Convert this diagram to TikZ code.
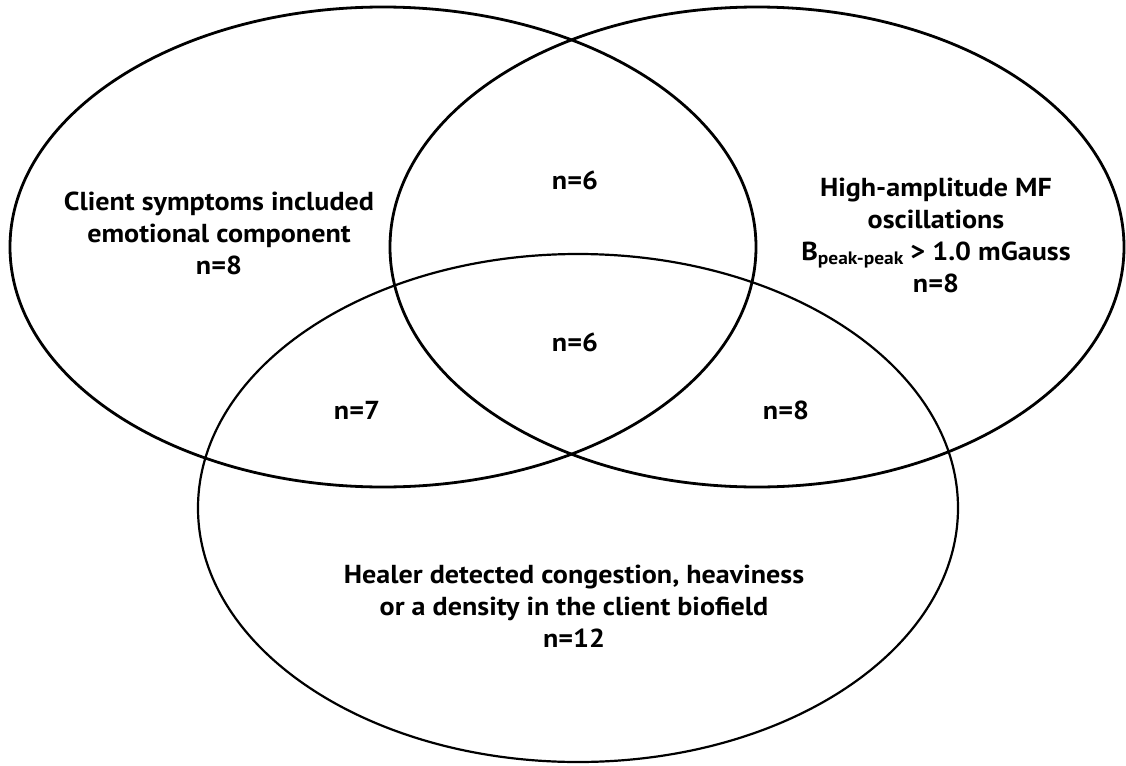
\documentclass[tikz,border=0pt]{standalone}
\usepackage{fontspec}
\setmainfont{PT Sans}[FakeStretch=1.08]
\usetikzlibrary{shapes.geometric}
\definecolor{bg}{HTML}{FFFFFF}
\definecolor{ink}{HTML}{000000}
\tikzset{
  venn/.style={draw=ink, ellipse, line width=1.4pt, inner sep=0pt, outer sep=0pt},
  lbl/.style={text=ink, font=\bfseries\fontsize{13}{16}\selectfont, align=center, inner sep=0pt}
}

\begin{document}
\begin{tikzpicture}[x=0.5pt, y=-0.5pt]
\fill[bg] (0,0) rectangle (1126,766);
\useasboundingbox (0,0) rectangle (1126,766);
% the three sets
\node[venn, minimum width=373pt, minimum height=240pt] (client) at (383,247) {};
\node[venn, minimum width=367pt, minimum height=240pt] (osc) at (757,247) {};
\node[venn, line width=1.1pt, minimum width=380pt, minimum height=254pt] (healer) at (578,508) {};
% set labels
\node[lbl] (clientlbl) at (219,233) {Client symptoms included\\emotional component\\n=8};
\node[lbl] (osclbl) at (936,235) {High-amplitude MF\\oscillations\\B\raisebox{-0.35ex}{\fontsize{9}{9}\selectfont peak-peak} > 1.0 mGauss\\n=8};
\node[lbl] (healerlbl) at (574,606) {Healer detected congestion, heaviness\\or a density in the client biofield\\n=12};
% overlap counts
\foreach \nm/\x/\y/\cnt in {co/575/180/6, all/575/342/6, ch/357/410/7, oh/786/410/8}{
  \node[lbl] (\nm) at (\x,\y) {n=\cnt};
}
\end{tikzpicture}
\end{document}
